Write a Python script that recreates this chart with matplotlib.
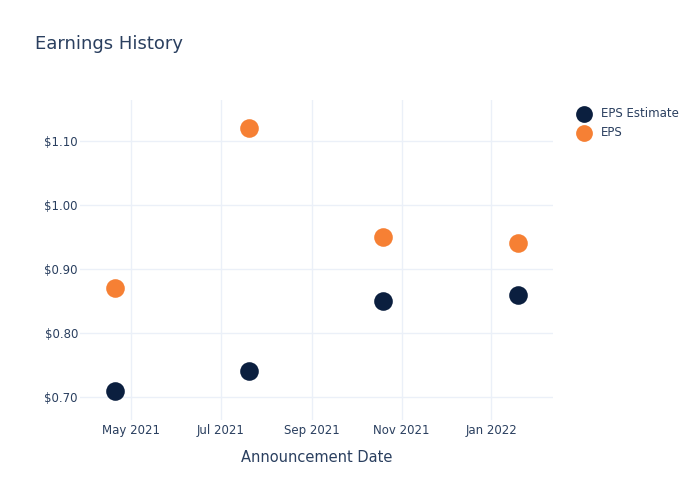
import matplotlib
matplotlib.use("Agg")
import matplotlib.pyplot as plt
import numpy as np
from datetime import datetime

dates = ["2021-04-20", "2021-07-20", "2021-10-19", "2022-01-19"]
eps_estimate = [0.71, 0.74, 0.85, 0.86]
eps_actual = [0.87, 1.12, 0.95, 0.94]
y_ticks = [0.70, 0.80, 0.90, 1.00, 1.10]

x = [datetime.strptime(d, "%Y-%m-%d") for d in dates]

text_color = "#2a3f5f"
grid_color = "#ebf0f8"
navy = "#0b1f3f"
orange = "#f68034"

fig = plt.figure(figsize=(7, 5), dpi=100)
ax = fig.add_axes([80/700, 80/500, (553-80)/700, (420-100)/500])

ax.scatter(x, eps_estimate, s=180, color=navy, zorder=3, label="EPS Estimate", linewidths=0)
ax.scatter(x, eps_actual, s=180, color=orange, zorder=3, label="EPS", linewidths=0)

ax.set_xlim(datetime(2021, 3, 27), datetime(2022, 2, 12))
ax.set_ylim(0.664, 1.164)
ax.set_yticks(y_ticks)
ax.set_yticklabels([f"${v:.2f}" for v in y_ticks])

xt = [datetime(2021, 5, 1), datetime(2021, 7, 1), datetime(2021, 9, 1), datetime(2021, 11, 1), datetime(2022, 1, 1)]
ax.set_xticks(xt)
ax.set_xticklabels([d.strftime("%b %Y") for d in xt])

ax.grid(True, color=grid_color, linewidth=1, zorder=0)
for s in ax.spines.values():
    s.set_visible(False)
ax.tick_params(axis="both", length=0, colors=text_color, labelsize=8.5)
ax.tick_params(axis="x", pad=3)
ax.tick_params(axis="y", pad=1.5)
ax.set_xlabel("Announcement Date", color=text_color, fontsize=10.5, labelpad=9)

fig.text(35/700, 1 - 44/500, "Earnings History", color=text_color, fontsize=13, va="center", ha="left")

leg = fig.legend(loc="upper left", bbox_to_anchor=(572/700, 1 - 107/500), frameon=False,
                 fontsize=8.5, labelcolor=text_color, handletextpad=0.45, markerscale=0.9,
                 labelspacing=0.5, borderaxespad=0, borderpad=0)

fig.savefig("out.png", dpi=100)
